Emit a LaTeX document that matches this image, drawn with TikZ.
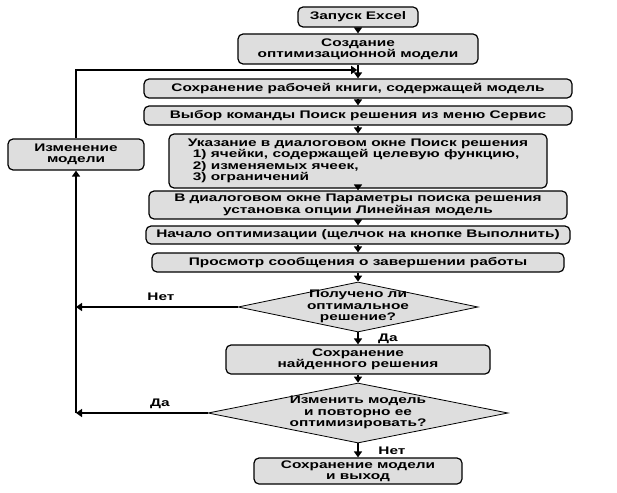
\documentclass[tikz,border=0pt]{standalone}
\usepackage{fontspec}
\setmainfont{Liberation Sans}[FakeStretch=1.4]
\usetikzlibrary{shapes.geometric,arrows.meta}
\definecolor{boxgray}{gray}{0.87}
\begin{document}
\begin{tikzpicture}[x=1pt,y=-1pt,
  txt/.style={font=\fontsize{11}{11.4}\selectfont\bfseries},
  box/.style={txt, draw, line width=1.2pt, rounded corners=5pt, fill=boxgray, align=center, inner sep=1pt},
  dia/.style={txt, draw, line width=0.8pt, diamond, fill=boxgray, inner sep=0pt},
  arr/.style={line width=1.5pt, -{Triangle[length=6pt,width=8pt]}},
  lbl/.style={txt}]
\def\cx{358}
\useasboundingbox (0,0) rectangle (617,492);
\node[box, minimum width=120pt, minimum height=20pt] (start) at (\cx,17) {Запуск Excel};
\node[box, minimum width=240pt, minimum height=30pt] (create) at (\cx,49) {Создание\\оптимизационной модели};
\node[box, minimum width=428pt, minimum height=19pt] (save) at (\cx,88.5) {Сохранение рабочей книги, содержащей модель};
\node[box, minimum width=428pt, minimum height=19pt] (choose) at (\cx,115.5) {Выбор команды Поиск решения из меню Сервис};
\node[box, align=left, minimum width=378pt, minimum height=54pt] (spec) at (\cx,161) {Указание в диалоговом окне Поиск решения\\\hspace*{5pt}1) ячейки, содержащей целевую функцию,\\\hspace*{5pt}2) изменяемых ячеек,\\\hspace*{5pt}3) ограничений};
\node[box, minimum width=136pt, minimum height=31pt] (change) at (76,154.5) {Изменение\\модели};
\node[box, minimum width=418pt, minimum height=28pt] (params) at (\cx,205) {В диалоговом окне Параметры поиска решения\\установка опции Линейная модель};
\node[box, minimum width=424pt, minimum height=18pt] (run) at (\cx,235) {Начало оптимизации (щелчок на кнопке Выполнить)};
\node[box, minimum width=412pt, minimum height=19pt] (view) at (\cx,262.5) {Просмотр сообщения о завершении работы};
\node[dia, minimum width=240pt, minimum height=50pt] (dec1) at (\cx,307) {\makebox[0pt]{\smash{\raisebox{-2.5pt}{\begin{tabular}{@{}c@{}}Получено ли\\оптимальное\\решение?\end{tabular}}}}};
\node[box, minimum width=264pt, minimum height=29pt] (found) at (\cx,359.5) {Сохранение\\найденного решения};
\node[dia, minimum width=300pt, minimum height=60pt] (dec2) at (\cx,413) {\makebox[0pt]{\smash{\raisebox{-2.5pt}{\begin{tabular}{@{}c@{}}Изменить модель\\и повторно ее\\оптимизировать?\end{tabular}}}}};
\node[box, minimum width=208pt, minimum height=26pt] (exit) at (\cx,471) {Сохранение модели\\и выход};
\coordinate (join) at (\cx,70);
\coordinate (corner) at (dec2.west -| change.south);
\coordinate (hit) at (dec1.west -| change.south);
\draw[arr] (start) -- (create);
\draw[arr] (create) -- (save);
\draw[arr] (save) -- (choose);
\draw[arr] (choose) -- (spec);
\draw[arr] (spec) -- (params);
\draw[arr] (params) -- (run);
\draw[arr] (run) -- (view);
\draw[arr] (view) -- (dec1);
\draw[arr] (dec1) -- (found);
\draw[arr] (found) -- (dec2);
\draw[arr] (dec2) -- (exit);
\draw[arr, shorten >=0.8pt] (change.north) |- (join);
\draw[arr] (dec1.west) -- (hit);
\draw[arr] (dec2.west) -- (corner);
\draw[arr] (corner) -- (change.south);
\node[lbl] (no1) at (161,297) {Нет};
\node[lbl] (yes1) at (388,339) {Да};
\node[lbl] (yes2) at (160,404) {Да};
\node[lbl] (no2) at (392,451) {Нет};
\end{tikzpicture}
\end{document}
